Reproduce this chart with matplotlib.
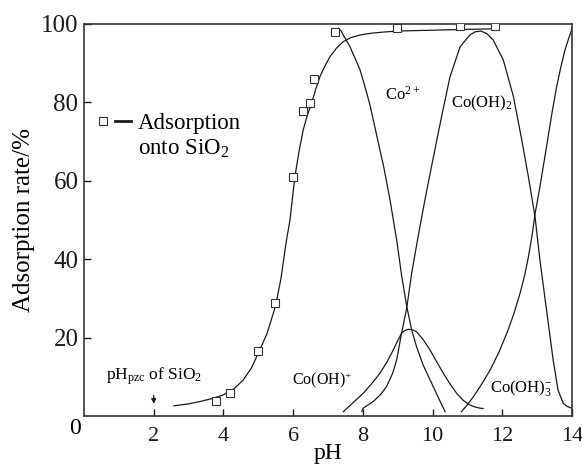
import numpy as np
import matplotlib
matplotlib.use("Agg")
import matplotlib.pyplot as plt
from matplotlib.lines import Line2D
from matplotlib.legend_handler import HandlerTuple

plt.rcParams['font.family'] = ['Liberation Serif', 'DejaVu Serif']
plt.rcParams['mathtext.fontset'] = 'custom'
plt.rcParams['mathtext.rm'] = 'Liberation Serif'
plt.rcParams['mathtext.it'] = 'Liberation Serif:italic'
plt.rcParams['mathtext.bf'] = 'Liberation Serif:bold'

# measured adsorption onto SiO2
ph_meas = [3.8, 4.19, 5.0, 5.49, 5.99, 6.29, 6.48, 6.6, 7.2, 8.99, 10.8, 11.78]
ads_meas = [3.8, 5.8, 16.7, 28.8, 61, 77.9, 79.8, 85.9, 98, 99, 99.4, 99.5]

# fitted adsorption curve
ph_fit = [2.58, 3.0, 3.33, 3.7, 4.0, 4.3, 4.57, 4.8, 5.0, 5.25, 5.49, 5.65, 5.81, 5.91,
          6.05, 6.17, 6.29, 6.41, 6.53, 6.65, 6.77, 6.92, 7.06, 7.25, 7.44, 7.65, 7.92,
          8.2, 8.6, 8.99, 10.4, 11.91]
ads_fit = [2.6, 3.1, 3.7, 4.5, 5.4, 6.9, 9.2, 12.2, 16, 21, 27.9, 35, 44.9, 50,
           61, 67.5, 73, 76.8, 79.8, 83.4, 86.6, 89.4, 91.7, 93.9, 95.5, 96.5, 97.2,
           97.6, 97.95, 98.2, 98.5, 98.8]

# Co2+ fraction
ph_co = [7.3, 7.38, 7.45, 7.53, 7.63, 7.77, 7.92, 8.06, 8.2, 8.4, 8.6, 8.78, 8.97,
         9.11, 9.26, 9.4, 9.54, 9.73, 9.93, 10.15, 10.36]
f_co = [98.9, 98.2, 97.0, 95.8, 94.2, 91.4, 88.3, 84.0, 79.5, 71.5, 63.5, 55.1, 44.9,
        36.0, 27.9, 22.0, 17.7, 13.0, 9.2, 5.0, 1.1]

# Co(OH)+ fraction
ph_coh = [7.44, 7.72, 8.01, 8.25, 8.49, 8.7, 8.87, 9.0, 9.11, 9.2, 9.3, 9.42, 9.54,
          9.73, 9.93, 10.12, 10.31, 10.5, 10.69, 10.88, 11.07, 11.22, 11.36, 11.45]
f_coh = [1.1, 3.4, 5.8, 8.2, 10.9, 13.9, 16.8, 19.2, 21.1, 21.8, 22.1, 22.0, 21.5,
         19.5, 16.8, 13.8, 10.9, 8.2, 5.8, 4.0, 2.8, 2.3, 2.0, 1.9]

# Co(OH)2 fraction
ph_coh2 = [7.97, 8.01, 8.3, 8.5, 8.68, 8.85, 8.97, 9.11, 9.26, 9.4, 9.58, 9.78, 9.93,
           10.08, 10.25, 10.5, 10.79, 11.07, 11.22, 11.38, 11.55, 11.74, 12.03, 12.32,
           12.56, 12.75, 12.94, 13.08, 13.27, 13.46, 13.6, 13.75, 13.87, 14.0]
f_coh2 = [1.1, 2.0, 3.7, 5.4, 7.5, 10.8, 14.3, 21.1, 27.6, 36.4, 45.5, 55.1, 61.9,
          68.5, 76.0, 86.5, 94.2, 97.2, 98.0, 98.2, 97.6, 95.9, 90.8, 81.5, 70.4,
          61, 50.8, 39.8, 27, 14.3, 6.6, 3.2, 2.4, 2.0]

# Co(OH)3- fraction
ph_coh3 = [10.83, 11.0, 11.17, 11.4, 11.65, 11.9, 12.13, 12.33, 12.51, 12.65, 12.75,
           12.85, 12.94, 13.08, 13.27, 13.42, 13.56, 13.68, 13.8, 13.9, 13.99]
f_coh3 = [1.1, 2.9, 4.9, 8.0, 11.7, 16.2, 21.1, 26.0, 31.3, 36.2, 40.6, 45.8, 51.5,
          58.5, 68.7, 77.0, 84, 89.0, 93.4, 96.2, 98.5]

ink = '#1a1a1a'
fig = plt.figure(figsize=(5.82, 4.75), dpi=100)
ax = fig.add_axes([0.1443, 0.1242, 0.8385, 0.8253])

lw = 0.9
ax.plot(ph_fit, ads_fit, color=ink, lw=lw)
ax.plot(ph_co, f_co, color=ink, lw=lw)
ax.plot(ph_coh, f_coh, color=ink, lw=lw)
ax.plot(ph_coh2, f_coh2, color=ink, lw=lw)
ax.plot(ph_coh3, f_coh3, color=ink, lw=lw)
ax.plot(ph_meas, ads_meas, linestyle='none', marker='s', ms=6, mfc='white',
        mec='#333333', mew=0.8, zorder=5)

ax.set_xlim(0, 14)
ax.set_ylim(0, 100)
ax.set_xticks([2, 4, 6, 8, 10, 12, 14])
ax.set_yticks([20, 40, 60, 80, 100])
ax.tick_params(axis='both', direction='in', length=5, width=1, colors=ink)
ax.tick_params(axis='x', labelsize=16, pad=8)
ax.tick_params(axis='y', labelsize=18, pad=4)
for s in ax.spines.values():
    s.set_linewidth(1.2)
    s.set_color('#333333')

ax.text(-0.26, -3.3, '0', fontsize=17, ha='center', va='center', clip_on=False)
ax.set_xlabel('pH', fontsize=17, labelpad=-2)
ax.set_ylabel('Adsorption rate/%', fontsize=18, labelpad=4)

# species labels
ax.text(9.15, 81.9, 'Co$^{2+}$', fontsize=12, ha='center', va='center')
ax.text(11.42, 79.8, 'Co(OH)$_2$', fontsize=12, ha='center', va='center')
ax.text(6.83, 9.2, 'Co(OH)$^{+}$', fontsize=11.5, ha='center', va='center')
ax.text(12.54, 7.1, 'Co(OH)$_3^{-}$', fontsize=12, ha='center', va='center')
ax.text(2.0, 10.2, 'pH$_{\\rm pzc}$ of SiO$_2$', fontsize=12.5, ha='center', va='center')
ax.annotate('', xy=(2.0, 2.4), xytext=(2.0, 6.0),
            arrowprops=dict(arrowstyle='-|>', color=ink, lw=0.9, mutation_scale=7))

# legend
h_pair = (Line2D([], [], ls='none', marker='s', ms=6, mfc='white', mec='#333333', mew=0.8),
          Line2D([], [], color=ink, lw=2))
h_blank = Line2D([], [], ls='none')
ax.legend([h_pair, h_blank], ['Adsorption', 'onto SiO$_2$'],
          handler_map={tuple: HandlerTuple(ndivide=None, pad=0.2)},
          loc='upper left', bbox_to_anchor=(0.022, 0.772), frameon=False,
          fontsize=16.5, handlelength=1.6, handletextpad=0.3, labelspacing=0.13,
          borderpad=0, borderaxespad=0)

fig.savefig('out.png', dpi=100)
